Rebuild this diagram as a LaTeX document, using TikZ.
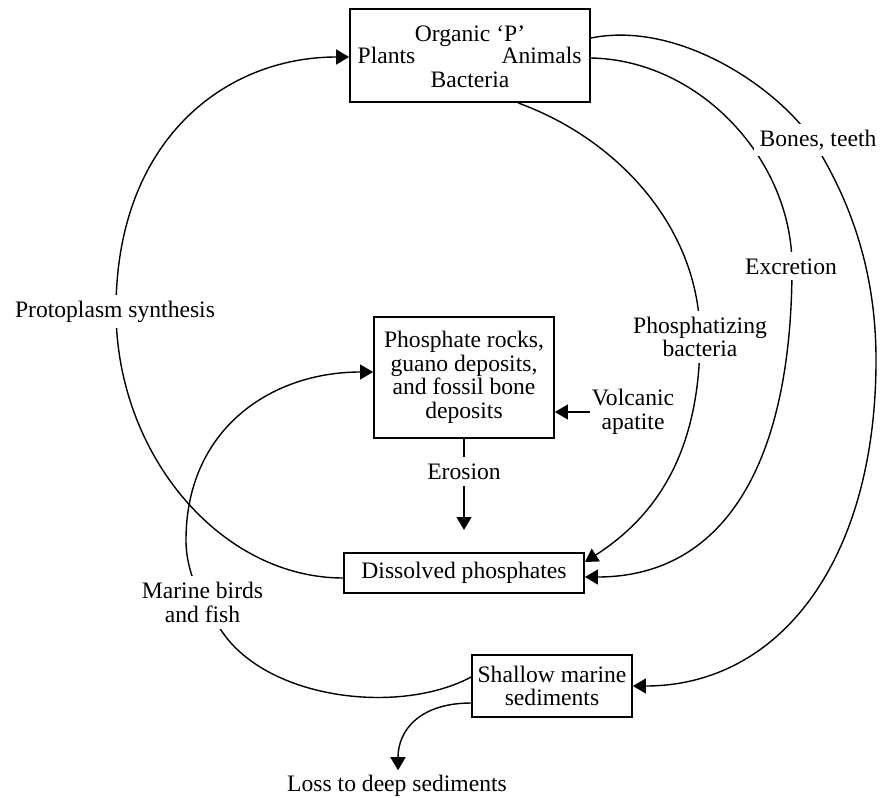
\documentclass[tikz,border=0pt]{standalone}
\usepackage{fontspec}
\setmainfont{Liberation Serif}
\usetikzlibrary{arrows.meta}
\newcommand{\dgfont}{\fontsize{11.8}{11.8}\selectfont}
\begin{document}
\begin{tikzpicture}[x=0.5pt,y=-0.5pt,
  box/.style={draw,line width=0.9pt,inner sep=0pt,align=center,font=\dgfont},
  txt/.style={inner sep=0pt,font=\dgfont,anchor=base},
  lbl/.style={fill=white,inner sep=3pt,align=center,font=\dgfont},
  conn/.style={line width=0.7pt},
  arr/.style={conn,-{Triangle[length=6.5pt,width=7.5pt]}}]
\useasboundingbox (0,0) rectangle (881,797);

% boxes
\node[box,minimum width=120pt,minimum height=46.5pt] (org) at (470,55.5) {};
\node[txt] (orgt) at (470,42) {Organic ‘P’};
\node[txt] (plants) at (386.5,64) {Plants};
\node[txt] (animals) at (541.5,64) {Animals};
\node[txt] (bact) at (470,88) {Bacteria};

\node[box,minimum width=90pt,minimum height=60.5pt] (mid) at (464,377.5)
  {Phosphate rocks,\\guano deposits,\\and fossil bone\\deposits};
\node[box,minimum width=120pt,minimum height=20pt] (dis) at (464,573) {Dissolved phosphates};
\node[box,minimum width=80pt,minimum height=31pt] (sha) at (552,686) {Shallow marine\\sediments};

% plain labels
\node[txt,inner xsep=0pt,inner ysep=3pt] (ero) at (464,479) {Erosion};
\node[txt,inner sep=2pt] (loss) at (397,791) {Loss to deep sediments};
\node[align=center,font=\dgfont,inner sep=1pt] (volc) at (633,412) {Volcanic\\apatite};
\coordinate (erotip) at (464,530);

% connectors
\draw[arr] ([yshift=-2.5pt]dis.west) .. controls (221,578) and (116,455) .. (116,310)
  .. controls (116,140) and (225,57) .. ([yshift=-0.75pt]org.west);
\draw[arr] ([yshift=4.5pt]sha.west) .. controls (400,715) and (270,700) .. (223,633)
  .. controls (203,604) and (186,575) .. (186,540)
  .. controls (186,430) and (270,372) .. ([yshift=2.75pt]mid.west);
\draw[arr] ([xshift=24pt]org.south) .. controls (620,140) and (700,230) .. (700,337)
  .. controls (700,460) and (650,520) .. ([yshift=5.5pt]dis.east);
\draw[arr] ([yshift=-1.25pt]org.east) .. controls (700,60) and (792,160) .. (792,266)
  .. controls (792,470) and (720,577) .. ([yshift=-2pt]dis.east);
\draw[arr] ([yshift=8.75pt]org.east) .. controls (680,20) and (780,90) .. (813,141)
  .. controls (850,200) and (876,270) .. (876,360)
  .. controls (876,560) and (780,686) .. (sha.east);
\draw[arr] ([yshift=-8.5pt]sha.west) .. controls (420,703) and (398,730) .. (loss.north -| 398,0);
\draw[arr] (volc.west) -- (volc.west -| mid.east);
\draw[conn] (mid.south) -- (ero.north);
\draw[arr] (ero.south) -- (erotip);

% labels on curves
\node[lbl,anchor=base] (proto) at (115,317) {Protoplasm synthesis};
\node[lbl] (marine) at (202.5,602.5) {Marine birds\\and fish};
\node[lbl] (phos) at (700,337) {Phosphatizing\\bacteria};
\node[lbl,anchor=base] (excr) at (791,274) {Excretion};
\node[lbl,anchor=base] (bones) at (818,146) {Bones, teeth};
\end{tikzpicture}
\end{document}
